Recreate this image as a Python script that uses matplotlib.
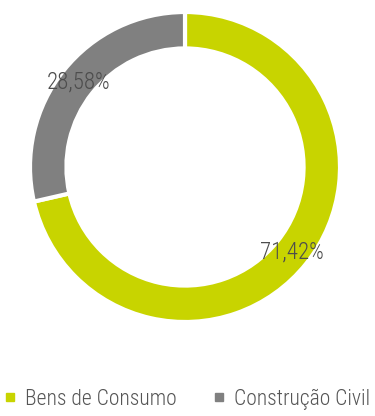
import matplotlib
matplotlib.use("Agg")
import matplotlib.pyplot as plt
from matplotlib.lines import Line2D
import numpy as np

categories = ["Bens de Consumo", "Construção Civil"]
shares = [71.42, 28.58]
labels = ["71,42%", "28,58%"]
colors = ["#c8d400", "#808080"]

FONT = "Roboto Condensed"

fig = plt.figure(figsize=(3.75, 4.16), dpi=100)
ax = fig.add_axes([30 / 375, (249 - 155) / 416, 310 / 375, 310 / 416])

wedges, _ = ax.pie(
    shares,
    colors=colors,
    startangle=90,
    counterclock=False,
    radius=1.0,
    wedgeprops=dict(width=0.235, edgecolor="white", linewidth=3.0),
)

# percentage labels centred on the ring
for w, lab in zip(wedges, labels):
    ang = np.deg2rad((w.theta1 + w.theta2) / 2)
    r = 0.88
    ax.text(r * np.cos(ang), r * np.sin(ang), lab, ha="center", va="center",
            family=FONT, weight=300, fontsize=16.5, color="#4d4d4d")

ax.set_xlim(-1, 1)
ax.set_ylim(-1, 1)
ax.set_aspect("equal")
ax.axis("off")

handles = [Line2D([], [], marker="s", linestyle="none", markersize=5.5,
                  markerfacecolor=c, markeredgecolor=c) for c in colors]
leg = fig.legend(handles, categories, loc="center", bbox_to_anchor=(0.5, 1 - 399 / 416),
                 ncol=2, frameon=False, handlelength=0.5, handletextpad=0.45,
                 columnspacing=1.7, borderpad=0, borderaxespad=0,
                 prop=dict(family=FONT, weight=300, size=15.5))
for t in leg.get_texts():
    t.set_color("#555555")

fig.savefig("out.png", facecolor="white")
